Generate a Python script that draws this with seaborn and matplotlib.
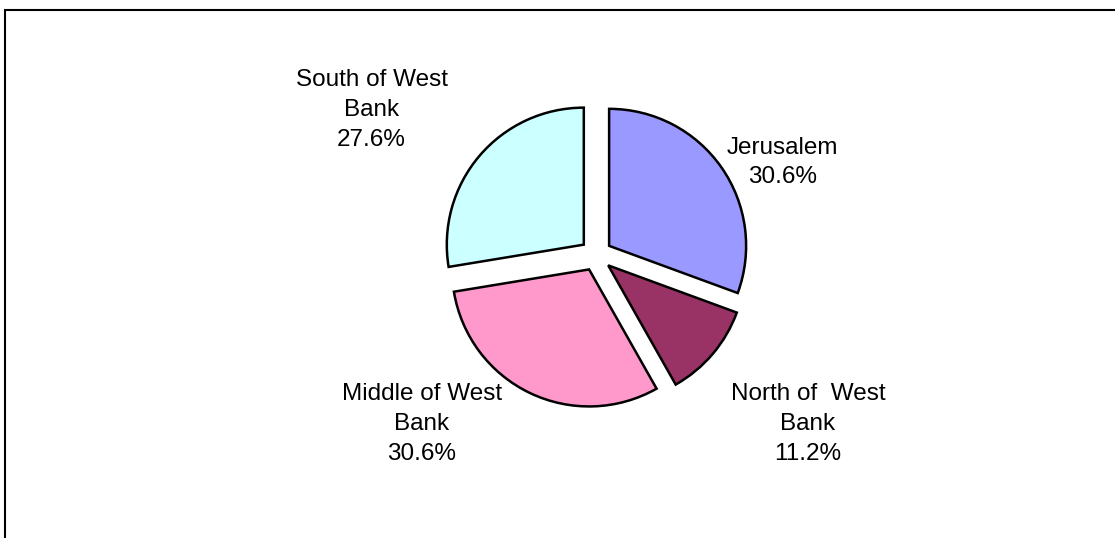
import matplotlib
matplotlib.use("Agg")
import matplotlib.pyplot as plt
from matplotlib.patches import Rectangle
import seaborn as sns

# ---- data ----
regions = ["Jerusalem", "North of  West\nBank", "Middle of West\nBank", "South of West\nBank"]
shares = [30.6, 11.2, 30.6, 27.6]
colors = ["#9999FF", "#993366", "#FF99CC", "#CCFFFF"]

# label anchor points (pixel coordinates, y measured from bottom)
label_xy = [(782.5, 375.5), (808.0, 114.0), (421.7, 114.0), (371.5, 428.0)]

sns.set_theme(style="white")
plt.rcParams["font.family"] = ["Liberation Sans", "DejaVu Sans"]

W, H = 1115, 538
fig = plt.figure(figsize=(W / 100, H / 100), dpi=100)
fig.patch.set_facecolor("white")
ax = fig.add_axes([0, 0, 1, 1])

radius = 137
ax.pie(
    shares,
    colors=colors,
    explode=[16] * len(shares),   # matplotlib explode is in data units
    startangle=90,
    counterclock=False,
    center=(596, 283),
    radius=radius,
    wedgeprops=dict(edgecolor="black", linewidth=1.8),
    frame=False,
)

for name, val, (x, y) in zip(regions, shares, label_xy):
    ax.text(x, y, f"{name}\n{val:.1f}%", ha="center", va="center",
            multialignment="center", fontsize=17.5, color="black", linespacing=1.45)

ax.add_patch(Rectangle((4.5, -20), 1200, 528.5 + 20, fill=False,
                       edgecolor="black", linewidth=1.5))

ax.set_xlim(0, W)
ax.set_ylim(0, H)
ax.set_aspect("equal", adjustable="box")
ax.axis("off")

fig.savefig("out.png", dpi=100, facecolor="white")
